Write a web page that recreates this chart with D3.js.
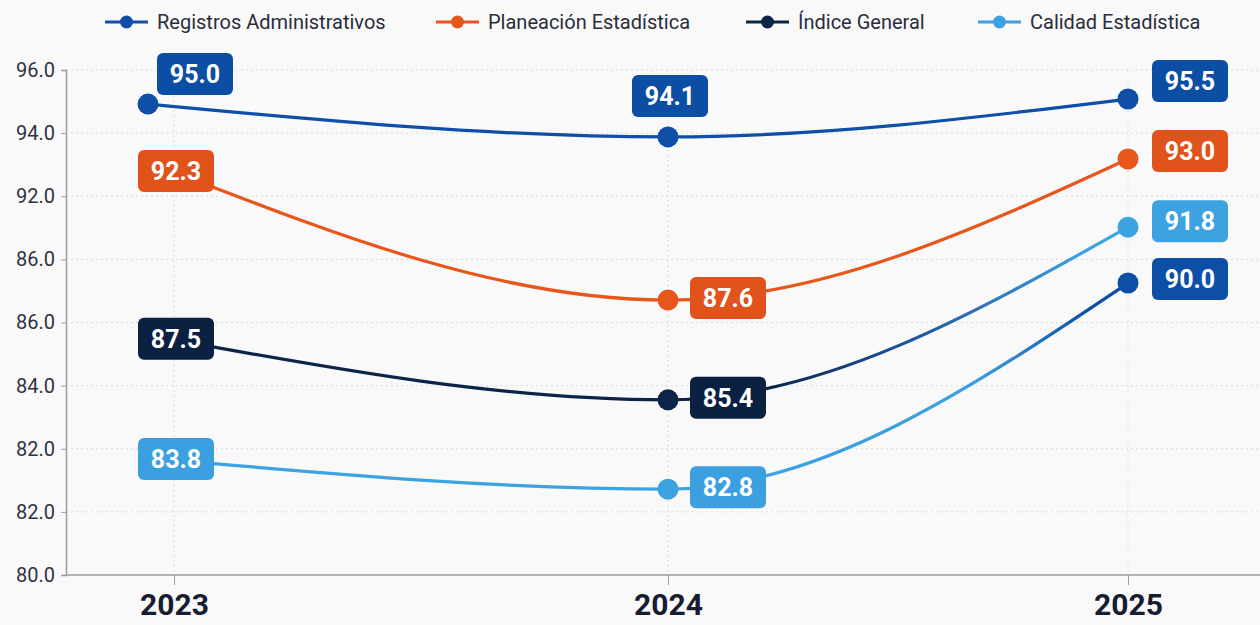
<!DOCTYPE html>
<html>
<head>
<meta charset="utf-8">
<script src="https://cdn.jsdelivr.net/npm/d3@7"></script>
<style>
  html, body { margin: 0; padding: 0; background: #f9f9fa; }
  svg { display: block; font-family: Roboto, "Noto Sans", sans-serif; }
</style>
</head>
<body>
<svg id="chart" width="1260" height="625"></svg>
<script>
// ---- data ----
const years = [2023, 2024, 2025];
const seriesNames = ["Registros Administrativos", "Planeación Estadística", "Índice General", "Calidad Estadística"];
const registros = [94.92, 93.88, 95.08];
const planeacion = [92.77, 88.71, 93.18];
const indice = [87.45, 85.55, 91.02];
const calidad = [83.64, 82.72, 89.25];
const registrosLabels = ["95.0", "94.1", "95.5"];
const planeacionLabels = ["92.3", "87.6", "93.0"];
const indiceLabels = ["87.5", "85.4", "91.8"];
const calidadLabels = ["83.8", "82.8", "90.0"];
const yTickValues = [80, 82, 84, 86, 88, 90, 92, 94, 96];
const yTickLabels = ["80.0", "82.0", "82.0", "84.0", "86.0", "86.0", "92.0", "94.0", "96.0"];

// ---- styling ----
const colors = ["#0f4fa8", "#e8561b", "#0b2447", "#3da2e0"];
const labelColors = ["#0b4ea3", "#e0531a", "#0a2142", "#3b9fe0"];
// colour each line passes through and takes on at its last point
const midColors = ["#0f4fa8", "#e8561b", "#1b4f9c", "#3b9ee0"];
const endColors = ["#0f4fa8", "#e8561b", "#3da2e0", "#0d4fa6"];

const W = 1260, H = 625;
const m = { left: 66, top: 70, bottom: 50 };
const svg = d3.select("#chart");

const x = d3.scaleLinear()
  .domain(years)
  .range([m.left + 108, m.left + 602, m.left + 1062]);
const y = d3.scaleLinear().domain([80, 96]).range([H - m.bottom, m.top]);
const xPos = (s, i) => x(years[i]) - (s === 0 && i === 0 ? 26 : 0);

// grid
const grid = svg.append("g");
grid.selectAll("line.h").data(yTickValues).join("line")
  .attr("x1", m.left).attr("x2", W)
  .attr("y1", d => y(d)).attr("y2", d => y(d))
  .attr("stroke", "#d9dbe0").attr("stroke-width", 1).attr("stroke-dasharray", "2,3");
grid.selectAll("line.v").data(years).join("line")
  .attr("x1", d => x(d)).attr("x2", d => x(d))
  .attr("y1", y(96)).attr("y2", y(80))
  .attr("stroke", "#d9dbe0").attr("stroke-width", 1).attr("stroke-dasharray", "2,3");

// y axis
const yAxis = d3.axisLeft(y).tickValues(yTickValues)
  .tickFormat((d, i) => yTickLabels[i]).tickSize(5).tickPadding(6);
const gy = svg.append("g").attr("transform", `translate(${m.left},0)`).call(yAxis);
gy.select(".domain").attr("stroke", "#9a9ca3").attr("stroke-width", 1.5);
gy.selectAll(".tick line").attr("stroke", "#9a9ca3");
gy.selectAll("text").attr("font-size", 20).attr("fill", "#2f3340")
  .attr("font-family", "Roboto, sans-serif");

// x axis
const xAxis = d3.axisBottom(x).tickValues(years).tickFormat(d3.format("d"))
  .tickSize(10).tickPadding(12);
const gx = svg.append("g").attr("transform", `translate(0,${y(80)})`).call(xAxis);
gx.select(".domain").remove();
gx.append("line").attr("x1", m.left).attr("x2", W).attr("y1", 0).attr("y2", 0)
  .attr("stroke", "#9a9ca3").attr("stroke-width", 1.5);
gx.selectAll(".tick line").attr("stroke", "#9a9ca3");
gx.selectAll("text").attr("font-size", 30).attr("font-weight", 700)
  .attr("fill", "#171c30").attr("font-family", "Roboto, sans-serif")
  .attr("dy", "0.6em");

// gradients along the last segment
const defs = svg.append("defs");
colors.forEach((c, s) => {
  const grad = defs.append("linearGradient").attr("id", "grad" + s)
    .attr("gradientUnits", "userSpaceOnUse")
    .attr("x1", x(2024) + 100).attr("x2", x(2025) - 40).attr("y1", 0).attr("y2", 0);
  grad.append("stop").attr("offset", "0%").attr("stop-color", c);
  grad.append("stop").attr("offset", s === 3 ? "65%" : "40%").attr("stop-color", midColors[s]);
  grad.append("stop").attr("offset", "100%").attr("stop-color", endColors[s]);
});

const allValues = [registros, planeacion, indice, calidad];
const allLabels = [registrosLabels, planeacionLabels, indiceLabels, calidadLabels];

// lines
allValues.forEach((vals, s) => {
  const line = d3.line().x((d, i) => xPos(s, i)).y(d => y(d)).curve(d3.curveMonotoneX);
  svg.append("path").datum(vals)
    .attr("d", line)
    .attr("fill", "none")
    .attr("stroke", `url(#grad${s})`)
    .attr("stroke-width", 3.2)
    .attr("stroke-linecap", "round");
});

// dots
allValues.forEach((vals, s) => {
  svg.append("g").selectAll("circle").data(vals).join("circle")
    .attr("cx", (d, i) => xPos(s, i))
    .attr("cy", d => y(d))
    .attr("r", 10.5)
    .attr("fill", (d, i) => i === 2 ? endColors[s] : colors[s]);
});

// value labels
function labelPos(s, i, px, py) {
  if (i === 0) {
    if (s === 0) return [px + 21, py - 30];
    return [px + 2, py - 1];
  }
  if (i === 1) {
    if (s === 0) return [px + 2, py - 41];
    return [px + 60, py - 2];
  }
  const dy = [-18, -8, -6, -4][s];
  return [px + 62, py + dy];
}
const bw = 76, bh = 42;
allValues.forEach((vals, s) => {
  vals.forEach((v, i) => {
    const [cx, cy] = labelPos(s, i, x(years[i]), y(v));
    const g = svg.append("g").attr("transform", `translate(${cx},${cy})`);
    g.append("rect").attr("x", -bw / 2).attr("y", -bh / 2)
      .attr("width", bw).attr("height", bh).attr("rx", 6)
      .attr("fill", i === 2 && s >= 2 ? endColors[s] : labelColors[s]);
    g.append("text").text(allLabels[s][i])
      .attr("text-anchor", "middle").attr("dy", "0.36em")
      .attr("font-size", 25).attr("font-weight", 700).attr("fill", "#ffffff");
  });
});

// legend
const legendX = [105, 436, 746, 978];
const lg = svg.append("g");
seriesNames.forEach((name, s) => {
  const g = lg.append("g").attr("transform", `translate(${legendX[s]},22)`);
  g.append("line").attr("x1", 0).attr("x2", 43).attr("y1", 0).attr("y2", 0)
    .attr("stroke", colors[s]).attr("stroke-width", 3);
  g.append("circle").attr("cx", 21.5).attr("cy", 0).attr("r", 6.5).attr("fill", colors[s]);
  g.append("text").text(name).attr("x", 52).attr("dy", "0.35em")
    .attr("font-size", 20).attr("fill", "#2a2e3b");
});
</script>
</body>
</html>
